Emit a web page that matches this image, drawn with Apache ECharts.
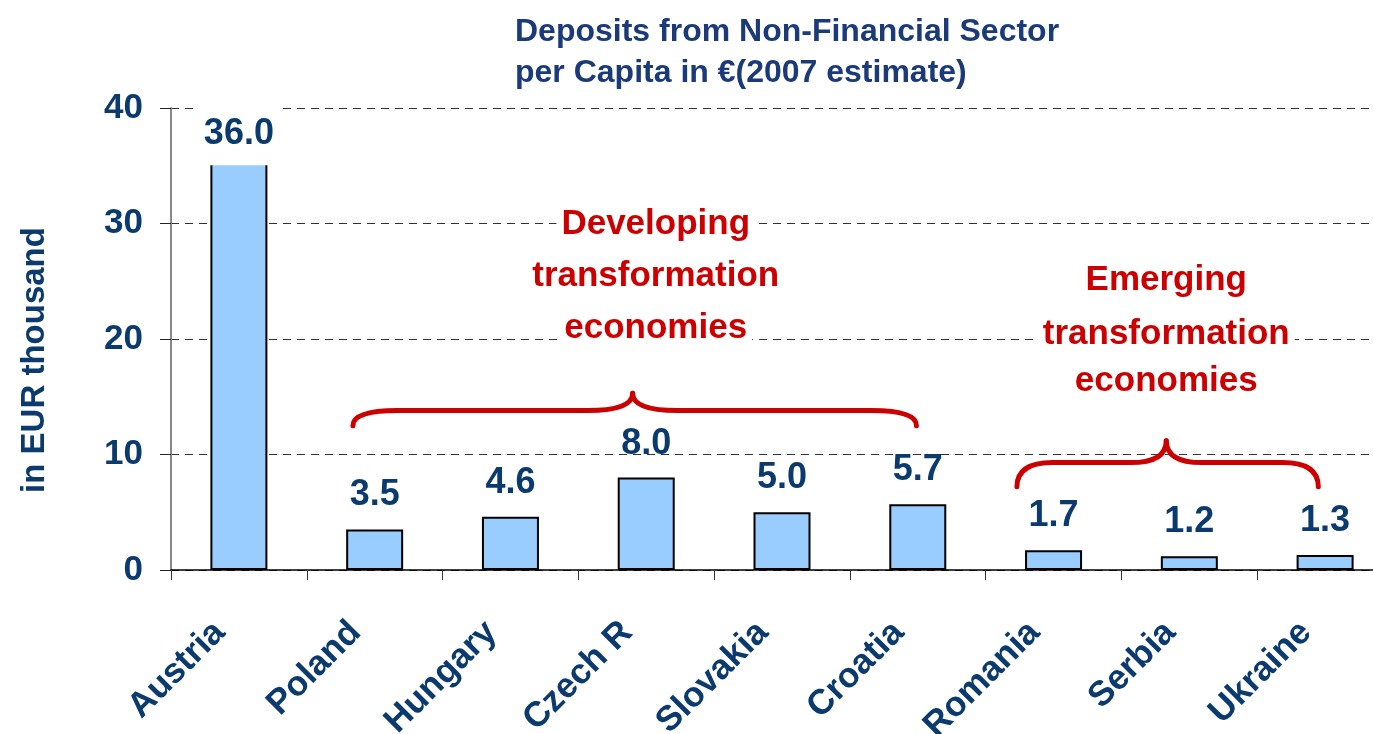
<!doctype html>
<html>
<head>
    <meta charset="utf-8">
    <title>Deposits per Capita</title>
    <script src="https://cdn.jsdelivr.net/npm/echarts@6/dist/echarts.min.js"></script>
    <style>
        html, body { margin: 0; padding: 0; overflow: hidden; background: #fff; }
    </style>
</head>
<body>
    <div id="main" style="width:1400px;height:734px;"></div>

    <script type="text/javascript">
        var categories = ['Austria', 'Poland', 'Hungary', 'Czech R', 'Slovakia', 'Croatia', 'Romania', 'Serbia', 'Ukraine'];
        var deposits = [36.0, 3.5, 4.6, 8.0, 5.0, 5.7, 1.7, 1.2, 1.3];
        var yTicks = [0, 10, 20, 30, 40];

        var groupLabels = [
            ['Developing', 'transformation', 'economies'],
            ['Emerging', 'transformation', 'economies']
        ];

        var FONT = '"Liberation Sans", Arial, sans-serif';
        var NAVY = '#0B3A6E';
        var RED = '#CC0000';

        var chart = echarts.init(document.getElementById('main'));

        var barData = deposits.map(function (v, i) {
            if (i === 0) {
                // first bar is cut off below its label, like the original
                return {
                    value: v,
                    label: {
                        backgroundColor: '#fff',
                        padding: [10, 8, 13, 8],
                        distance: -11
                    }
                };
            }
            return v;
        });

        var option = {
            animation: false,
            title: {
                text: 'Deposits from Non-Financial Sector\nper Capita in \u20ac(2007 estimate)',
                left: 515,
                top: 12,
                padding: 0,
                textStyle: {
                    fontFamily: FONT,
                    fontSize: 32,
                    fontWeight: 'bold',
                    color: '#1B3A7A',
                    lineHeight: 41
                }
            },
            grid: {
                left: 171,
                right: 7,
                top: 108,
                bottom: 164,
                outerBoundsMode: 'none',
                containLabel: false
            },
            xAxis: {
                type: 'category',
                data: categories,
                axisLine: { lineStyle: { color: '#000', width: 1.5 } },
                axisTick: { show: true, length: 10, lineStyle: { color: '#333' } },
                axisLabel: {
                    interval: 0,
                    rotate: 45,
                    margin: 38,
                    padding: [0, 27, 0, 0],
                    fontFamily: FONT,
                    fontSize: 35,
                    fontWeight: 'bold',
                    color: NAVY
                }
            },
            yAxis: {
                type: 'value',
                min: yTicks[0],
                max: yTicks[yTicks.length - 1],
                interval: 10,
                name: 'in EUR thousand',
                nameLocation: 'middle',
                nameRotate: 90,
                nameGap: 120,
                nameTextStyle: {
                    fontFamily: FONT,
                    fontSize: 33,
                    fontWeight: 'bold',
                    color: NAVY,
                    padding: [0, 42, 0, 0]
                },
                axisLine: { show: true, lineStyle: { color: '#888', width: 2 } },
                axisTick: { show: true, length: 11, lineStyle: { color: '#222' } },
                axisLabel: {
                    margin: 28,
                    fontFamily: FONT,
                    fontSize: 35,
                    fontWeight: 'bold',
                    color: NAVY
                },
                splitLine: {
                    show: true,
                    lineStyle: { color: '#333', width: 1, type: [8, 6] }
                }
            },
            series: [{
                type: 'bar',
                data: barData,
                barWidth: 57,
                itemStyle: {
                    color: '#99CCFF',
                    borderColor: '#000',
                    borderWidth: 2
                },
                label: {
                    show: true,
                    position: 'top',
                    distance: 16,
                    fontFamily: FONT,
                    fontSize: 36,
                    fontWeight: 'bold',
                    color: NAVY,
                    formatter: function (p) { return p.value.toFixed(1); }
                }
            }]
        };

        chart.setOption(option);

        // annotation layout in data space (category index, value)
        var braces = [
            { left: 0.84, right: 4.99, tip: 2.90, yEnd: 12.5, yMid: 13.8, yTip: 15.3, r: 45 },
            { left: 5.73, right: 7.95, tip: 6.83, yEnd: 7.2, yMid: 9.3, yTip: 11.2, r: 36 }
        ];
        var textBlocks = [
            { x: 3.07, y: [29.9, 25.4, 20.9] },
            { x: 6.83, y: [25.1, 20.4, 16.3] }
        ];

        function toPx(ci, v) {
            var p0 = chart.convertToPixel({ seriesIndex: 0 }, [0, v]);
            var p1 = chart.convertToPixel({ seriesIndex: 0 }, [1, v]);
            return [p0[0] + (p1[0] - p0[0]) * ci, p0[1]];
        }

        var graphics = [];
        var braceStyle = { stroke: RED, lineWidth: 5, lineCap: 'round', fill: null };

        braces.forEach(function (b) {
            var L = toPx(b.left, b.yEnd);
            var R = toPx(b.right, b.yEnd);
            var M = toPx(b.tip, b.yMid);
            var T = toPx(b.tip, b.yTip);
            var r = b.r;
            graphics.push(
                { type: 'bezierCurve', z: 100, shape: { x1: L[0], y1: L[1], cpx1: L[0], cpy1: M[1], x2: L[0] + r, y2: M[1] }, style: braceStyle },
                { type: 'line', z: 100, shape: { x1: L[0] + r, y1: M[1], x2: T[0] - r, y2: M[1] }, style: braceStyle },
                { type: 'bezierCurve', z: 100, shape: { x1: T[0] - r, y1: M[1], cpx1: T[0], cpy1: M[1], x2: T[0], y2: T[1] }, style: braceStyle },
                { type: 'bezierCurve', z: 100, shape: { x1: T[0], y1: T[1], cpx1: T[0], cpy1: M[1], x2: T[0] + r, y2: M[1] }, style: braceStyle },
                { type: 'line', z: 100, shape: { x1: T[0] + r, y1: M[1], x2: R[0] - r, y2: M[1] }, style: braceStyle },
                { type: 'bezierCurve', z: 100, shape: { x1: R[0] - r, y1: M[1], cpx1: R[0], cpy1: M[1], x2: R[0], y2: R[1] }, style: braceStyle }
            );
        });

        textBlocks.forEach(function (tb, k) {
            groupLabels[k].forEach(function (line, j) {
                var p = toPx(tb.x, tb.y[j]);
                graphics.push({
                    type: 'text',
                    z: 100,
                    x: p[0],
                    y: p[1],
                    style: {
                        text: line,
                        fontFamily: FONT,
                        fontSize: 35,
                        fontWeight: 'bold',
                        fill: RED,
                        align: 'center',
                        verticalAlign: 'middle',
                        backgroundColor: '#fff',
                        padding: [0, 5]
                    }
                });
            });
        });

        chart.setOption({ graphic: graphics });
    </script>
</body>
</html>
